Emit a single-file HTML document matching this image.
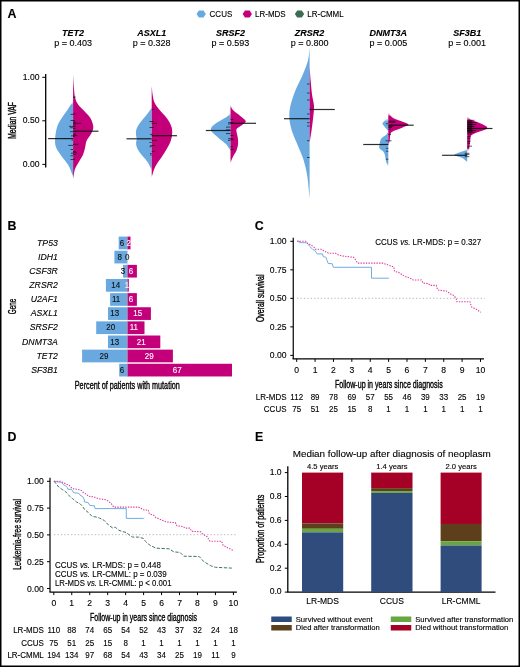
<!DOCTYPE html>
<html><head><meta charset="utf-8"><style>
html,body{margin:0;padding:0;background:#fff;}
svg{display:block;font-family:"Liberation Sans", sans-serif;will-change:transform;} text{stroke:#000;stroke-width:0.12px;}
</style></head><body>
<svg width="520" height="667" viewBox="0 0 520 667" font-family='"Liberation Sans", sans-serif' fill="#000">
<rect x="0.75" y="0.75" width="518.5" height="665.5" fill="#fff" stroke="#000" stroke-width="1.5"/>
<text x="7.5" y="17.6" font-size="12.4" font-weight="bold">A</text>
<text x="7.5" y="229.6" font-size="12.4" font-weight="bold">B</text>
<text x="254.8" y="230.0" font-size="12.4" font-weight="bold">C</text>
<text x="7.5" y="440.7" font-size="12.4" font-weight="bold">D</text>
<text x="254.9" y="440.7" font-size="12.4" font-weight="bold">E</text>
<polygon points="205.85,14.05 203.52,17.54 198.88,17.54 196.55,14.05 198.88,10.56 203.52,10.56" fill="#69A9DF"/>
<text transform="translate(209.6,17.1) scale(0.93,1)" font-size="8.6">CCUS</text>
<polygon points="251.95,14.05 249.62,17.54 244.98,17.54 242.65,14.05 244.98,10.56 249.62,10.56" fill="#C3007A"/>
<text transform="translate(255,17.1) scale(0.93,1)" font-size="8.6">LR-MDS</text>
<polygon points="304.15,14.05 301.82,17.54 297.18,17.54 294.85,14.05 297.18,10.56 301.82,10.56" fill="#3E6B55"/>
<text transform="translate(307.3,17.1) scale(0.93,1)" font-size="8.6">LR-CMML</text>
<line x1="45.7" y1="74.0" x2="45.7" y2="167.5" stroke="#000" stroke-width="1.3"/>
<line x1="42.3" y1="77.3" x2="45.7" y2="77.3" stroke="#000" stroke-width="1"/>
<text x="39.5" y="79.89999999999999" font-size="8.6" text-anchor="end">1.00</text>
<line x1="42.3" y1="120.8" x2="45.7" y2="120.8" stroke="#000" stroke-width="1"/>
<text x="39.5" y="123.39999999999999" font-size="8.6" text-anchor="end">0.50</text>
<line x1="42.3" y1="164.4" x2="45.7" y2="164.4" stroke="#000" stroke-width="1"/>
<text x="39.5" y="167.0" font-size="8.6" text-anchor="end">0.00</text>
<text transform="translate(16.2,120.5) rotate(-90)" font-size="10" text-anchor="middle" textLength="36.7" lengthAdjust="spacingAndGlyphs" style="stroke-width:0.35px">Median VAF</text>
<text x="73.1" y="36" font-size="9" font-weight="bold" font-style="italic" text-anchor="middle">TET2</text>
<text x="73.1" y="46" font-size="9" text-anchor="middle">p = 0.403</text>
<defs><linearGradient id="gTET2L" x1="0" y1="101" x2="0" y2="177.8" gradientUnits="userSpaceOnUse"><stop offset="0" stop-color="#69A9DF" stop-opacity="0"/><stop offset="0.052" stop-color="#69A9DF" stop-opacity="1"/><stop offset="0.948" stop-color="#69A9DF" stop-opacity="1"/><stop offset="1" stop-color="#69A9DF" stop-opacity="0"/></linearGradient></defs>
<path d="M73.10,101.00 L73.10,101.00 C72.18,102.45 69.52,106.82 67.60,109.70 C65.68,112.58 63.35,115.43 61.60,118.30 C59.85,121.17 58.18,123.45 57.10,126.90 C56.02,130.35 55.27,135.55 55.10,139.00 C54.93,142.45 55.02,144.73 56.10,147.60 C57.18,150.47 59.60,153.33 61.60,156.20 C63.60,159.07 66.38,161.93 68.10,164.80 C69.82,167.67 71.07,171.23 71.90,173.40 C72.73,175.57 72.90,177.07 73.10,177.80 L73.10,177.80 Z" fill="url(#gTET2L)"/>
<defs><linearGradient id="gTET2R" x1="0" y1="73.4" x2="0" y2="180.3" gradientUnits="userSpaceOnUse"><stop offset="0" stop-color="#C3007A" stop-opacity="0"/><stop offset="0.037" stop-color="#C3007A" stop-opacity="1"/><stop offset="0.963" stop-color="#C3007A" stop-opacity="1"/><stop offset="1" stop-color="#C3007A" stop-opacity="0"/></linearGradient></defs>
<path d="M73.10,73.40 L73.10,73.40 C73.23,75.70 73.57,83.17 73.90,87.20 C74.23,91.23 74.40,94.72 75.10,97.60 C75.80,100.48 76.50,102.20 78.10,104.50 C79.70,106.80 82.63,109.10 84.70,111.40 C86.77,113.70 89.07,115.72 90.50,118.30 C91.93,120.88 93.20,124.32 93.30,126.90 C93.40,129.48 92.22,131.50 91.10,133.80 C89.98,136.10 87.60,138.40 86.60,140.70 C85.60,143.00 85.68,145.30 85.10,147.60 C84.52,149.90 84.10,152.20 83.10,154.50 C82.10,156.80 80.40,159.10 79.10,161.40 C77.80,163.70 76.17,166.20 75.30,168.30 C74.43,170.40 74.27,172.00 73.90,174.00 C73.53,176.00 73.23,179.25 73.10,180.30 L73.10,180.30 Z" fill="url(#gTET2R)"/>
<line x1="73" y1="97.1" x2="75.7" y2="97.1" stroke="#000" stroke-opacity="0.7" stroke-width="0.9"/>
<line x1="73" y1="113.9" x2="75.5" y2="113.9" stroke="#000" stroke-opacity="0.7" stroke-width="0.9"/>
<line x1="73" y1="120.7" x2="75" y2="120.7" stroke="#000" stroke-opacity="0.7" stroke-width="0.9"/>
<line x1="73" y1="122.1" x2="76" y2="122.1" stroke="#000" stroke-opacity="0.7" stroke-width="0.9"/>
<line x1="73" y1="123.3" x2="81" y2="123.3" stroke="#000" stroke-opacity="0.7" stroke-width="0.9"/>
<line x1="73" y1="124.9" x2="75.5" y2="124.9" stroke="#000" stroke-opacity="0.7" stroke-width="0.9"/>
<line x1="73" y1="126.5" x2="75.5" y2="126.5" stroke="#000" stroke-opacity="0.7" stroke-width="0.9"/>
<line x1="73" y1="128.4" x2="75.5" y2="128.4" stroke="#000" stroke-opacity="0.7" stroke-width="0.9"/>
<line x1="73" y1="134" x2="76" y2="134" stroke="#000" stroke-opacity="0.7" stroke-width="0.9"/>
<line x1="73" y1="135.4" x2="77" y2="135.4" stroke="#000" stroke-opacity="0.7" stroke-width="0.9"/>
<line x1="73" y1="136.4" x2="75" y2="136.4" stroke="#000" stroke-opacity="0.7" stroke-width="0.9"/>
<line x1="73" y1="144.3" x2="78.4" y2="144.3" stroke="#000" stroke-opacity="0.7" stroke-width="0.9"/>
<line x1="73" y1="151.6" x2="76" y2="151.6" stroke="#000" stroke-opacity="0.7" stroke-width="0.9"/>
<line x1="73" y1="152.7" x2="77" y2="152.7" stroke="#000" stroke-opacity="0.7" stroke-width="0.9"/>
<line x1="73" y1="154.3" x2="76" y2="154.3" stroke="#000" stroke-opacity="0.7" stroke-width="0.9"/>
<line x1="73" y1="159.2" x2="75" y2="159.2" stroke="#000" stroke-opacity="0.7" stroke-width="0.9"/>
<line x1="70.5" y1="114.4" x2="73" y2="114.4" stroke="#000" stroke-opacity="0.7" stroke-width="0.9"/>
<line x1="70.5" y1="120.5" x2="73" y2="120.5" stroke="#000" stroke-opacity="0.7" stroke-width="0.9"/>
<line x1="68.9" y1="126.3" x2="73" y2="126.3" stroke="#000" stroke-opacity="0.7" stroke-width="0.9"/>
<line x1="70" y1="127.7" x2="73" y2="127.7" stroke="#000" stroke-opacity="0.7" stroke-width="0.9"/>
<line x1="70" y1="131.7" x2="73" y2="131.7" stroke="#000" stroke-opacity="0.7" stroke-width="0.9"/>
<line x1="71" y1="135.9" x2="73" y2="135.9" stroke="#000" stroke-opacity="0.7" stroke-width="0.9"/>
<line x1="71.5" y1="140.1" x2="73" y2="140.1" stroke="#000" stroke-opacity="0.7" stroke-width="0.9"/>
<line x1="68.2" y1="145.4" x2="73" y2="145.4" stroke="#000" stroke-opacity="0.7" stroke-width="0.9"/>
<line x1="70.5" y1="149.5" x2="73" y2="149.5" stroke="#000" stroke-opacity="0.7" stroke-width="0.9"/>
<line x1="71" y1="153.2" x2="73" y2="153.2" stroke="#000" stroke-opacity="0.7" stroke-width="0.9"/>
<line x1="70.5" y1="155.8" x2="73" y2="155.8" stroke="#000" stroke-opacity="0.7" stroke-width="0.9"/>
<line x1="70.5" y1="159.5" x2="73" y2="159.5" stroke="#000" stroke-opacity="0.7" stroke-width="0.9"/>
<line x1="48.1" y1="138.6" x2="73.1" y2="138.6" stroke="#000" stroke-opacity="0.82" stroke-width="1.2"/>
<line x1="73.1" y1="131.2" x2="98.4" y2="131.2" stroke="#000" stroke-opacity="0.82" stroke-width="1.2"/>
<text x="151.7" y="36" font-size="9" font-weight="bold" font-style="italic" text-anchor="middle">ASXL1</text>
<text x="151.7" y="46" font-size="9" text-anchor="middle">p = 0.328</text>
<defs><linearGradient id="gASXL1L" x1="0" y1="106.5" x2="0" y2="171" gradientUnits="userSpaceOnUse"><stop offset="0" stop-color="#69A9DF" stop-opacity="0"/><stop offset="0.062" stop-color="#69A9DF" stop-opacity="1"/><stop offset="0.938" stop-color="#69A9DF" stop-opacity="1"/><stop offset="1" stop-color="#69A9DF" stop-opacity="0"/></linearGradient></defs>
<path d="M151.70,106.50 L151.70,106.50 C151.53,106.92 151.20,108.08 150.70,109.00 C150.20,109.92 149.53,110.83 148.70,112.00 C147.87,113.17 146.78,114.67 145.70,116.00 C144.62,117.33 143.28,118.67 142.20,120.00 C141.12,121.33 140.08,122.67 139.20,124.00 C138.32,125.33 137.45,126.67 136.90,128.00 C136.35,129.33 136.02,130.67 135.90,132.00 C135.78,133.33 136.07,134.83 136.20,136.00 C136.33,137.17 136.72,137.83 136.70,139.00 C136.68,140.17 136.10,141.67 136.10,143.00 C136.10,144.33 136.27,145.67 136.70,147.00 C137.13,148.33 137.87,149.67 138.70,151.00 C139.53,152.33 140.62,153.67 141.70,155.00 C142.78,156.33 144.12,157.67 145.20,159.00 C146.28,160.33 147.37,161.67 148.20,163.00 C149.03,164.33 149.62,165.67 150.20,167.00 C150.78,168.33 151.45,170.33 151.70,171.00 L151.70,171.00 Z" fill="url(#gASXL1L)"/>
<defs><linearGradient id="gASXL1R" x1="0" y1="85" x2="0" y2="178" gradientUnits="userSpaceOnUse"><stop offset="0" stop-color="#C3007A" stop-opacity="0"/><stop offset="0.043" stop-color="#C3007A" stop-opacity="1"/><stop offset="0.957" stop-color="#C3007A" stop-opacity="1"/><stop offset="1" stop-color="#C3007A" stop-opacity="0"/></linearGradient></defs>
<path d="M151.70,85.00 L151.70,85.00 C151.87,86.67 152.20,92.00 152.70,95.00 C153.20,98.00 153.53,100.50 154.70,103.00 C155.87,105.50 157.70,107.50 159.70,110.00 C161.70,112.50 164.78,115.33 166.70,118.00 C168.62,120.67 170.28,123.50 171.20,126.00 C172.12,128.50 172.28,130.50 172.20,133.00 C172.12,135.50 171.62,138.33 170.70,141.00 C169.78,143.67 168.20,146.33 166.70,149.00 C165.20,151.67 163.45,154.33 161.70,157.00 C159.95,159.67 157.62,162.50 156.20,165.00 C154.78,167.50 153.95,169.83 153.20,172.00 C152.45,174.17 151.95,177.00 151.70,178.00 L151.70,178.00 Z" fill="url(#gASXL1R)"/>
<line x1="151.7" y1="109.4" x2="154.3" y2="109.4" stroke="#000" stroke-opacity="0.7" stroke-width="0.9"/>
<line x1="149.4" y1="121.5" x2="154" y2="121.5" stroke="#000" stroke-opacity="0.7" stroke-width="0.9"/>
<line x1="151.7" y1="123.3" x2="157" y2="123.3" stroke="#000" stroke-opacity="0.7" stroke-width="0.9"/>
<line x1="149.5" y1="127.5" x2="154" y2="127.5" stroke="#000" stroke-opacity="0.7" stroke-width="0.9"/>
<line x1="150" y1="134.4" x2="152.5" y2="134.4" stroke="#000" stroke-opacity="0.7" stroke-width="0.9"/>
<line x1="151.7" y1="140.4" x2="157" y2="140.4" stroke="#000" stroke-opacity="0.7" stroke-width="0.9"/>
<line x1="149.5" y1="142.5" x2="151.7" y2="142.5" stroke="#000" stroke-opacity="0.7" stroke-width="0.9"/>
<line x1="150" y1="145.6" x2="155" y2="145.6" stroke="#000" stroke-opacity="0.7" stroke-width="0.9"/>
<line x1="149.5" y1="146.7" x2="151.7" y2="146.7" stroke="#000" stroke-opacity="0.7" stroke-width="0.9"/>
<line x1="151.7" y1="151.4" x2="155" y2="151.4" stroke="#000" stroke-opacity="0.7" stroke-width="0.9"/>
<line x1="150" y1="153.5" x2="151.7" y2="153.5" stroke="#000" stroke-opacity="0.7" stroke-width="0.9"/>
<line x1="150" y1="155" x2="151.7" y2="155" stroke="#000" stroke-opacity="0.7" stroke-width="0.9"/>
<line x1="126.5" y1="138.8" x2="151.7" y2="138.8" stroke="#000" stroke-opacity="0.82" stroke-width="1.2"/>
<line x1="151.7" y1="135.7" x2="177" y2="135.7" stroke="#000" stroke-opacity="0.82" stroke-width="1.2"/>
<text x="230.5" y="36" font-size="9" font-weight="bold" font-style="italic" text-anchor="middle">SRSF2</text>
<text x="230.5" y="46" font-size="9" text-anchor="middle">p = 0.593</text>
<defs><linearGradient id="gSRSF2L" x1="0" y1="112.6" x2="0" y2="151.5" gradientUnits="userSpaceOnUse"><stop offset="0" stop-color="#69A9DF" stop-opacity="0"/><stop offset="0.103" stop-color="#69A9DF" stop-opacity="1"/><stop offset="0.897" stop-color="#69A9DF" stop-opacity="1"/><stop offset="1" stop-color="#69A9DF" stop-opacity="0"/></linearGradient></defs>
<path d="M230.50,112.60 L230.50,112.60 C229.92,113.30 228.80,115.40 227.00,116.80 C225.20,118.20 221.97,119.60 219.70,121.00 C217.43,122.40 214.88,123.80 213.40,125.20 C211.92,126.60 210.78,128.00 210.80,129.40 C210.82,130.80 212.02,132.02 213.50,133.60 C214.98,135.18 217.62,137.15 219.70,138.90 C221.78,140.65 224.37,142.35 226.00,144.10 C227.63,145.85 228.75,148.17 229.50,149.40 C230.25,150.63 230.33,151.15 230.50,151.50 L230.50,151.50 Z" fill="url(#gSRSF2L)"/>
<defs><linearGradient id="gSRSF2R" x1="0" y1="104.2" x2="0" y2="164" gradientUnits="userSpaceOnUse"><stop offset="0" stop-color="#C3007A" stop-opacity="0"/><stop offset="0.067" stop-color="#C3007A" stop-opacity="1"/><stop offset="0.933" stop-color="#C3007A" stop-opacity="1"/><stop offset="1" stop-color="#C3007A" stop-opacity="0"/></linearGradient></defs>
<path d="M230.50,104.20 L230.50,104.20 C230.83,105.08 231.33,107.92 232.50,109.50 C233.67,111.08 235.78,112.30 237.50,113.70 C239.22,115.10 241.42,116.60 242.80,117.90 C244.18,119.20 245.97,120.28 245.80,121.50 C245.63,122.72 243.27,124.05 241.80,125.20 C240.33,126.35 237.88,127.35 237.00,128.40 C236.12,129.45 236.37,129.93 236.50,131.50 C236.63,133.07 237.53,135.70 237.80,137.80 C238.07,139.90 238.32,142.00 238.10,144.10 C237.88,146.20 237.27,148.47 236.50,150.40 C235.73,152.33 234.33,154.12 233.50,155.70 C232.67,157.28 232.00,158.52 231.50,159.90 C231.00,161.28 230.67,163.32 230.50,164.00 L230.50,164.00 Z" fill="url(#gSRSF2R)"/>
<line x1="230.5" y1="119.4" x2="233.4" y2="119.4" stroke="#000" stroke-opacity="0.7" stroke-width="0.9"/>
<line x1="228.1" y1="122.6" x2="233" y2="122.6" stroke="#000" stroke-opacity="0.7" stroke-width="0.9"/>
<line x1="228" y1="124" x2="230.5" y2="124" stroke="#000" stroke-opacity="0.7" stroke-width="0.9"/>
<line x1="226" y1="127.1" x2="230.5" y2="127.1" stroke="#000" stroke-opacity="0.7" stroke-width="0.9"/>
<line x1="226" y1="129.9" x2="230.5" y2="129.9" stroke="#000" stroke-opacity="0.7" stroke-width="0.9"/>
<line x1="226" y1="133.6" x2="230.5" y2="133.6" stroke="#000" stroke-opacity="0.7" stroke-width="0.9"/>
<line x1="230.5" y1="135.5" x2="233.5" y2="135.5" stroke="#000" stroke-opacity="0.7" stroke-width="0.9"/>
<line x1="228" y1="138.7" x2="233" y2="138.7" stroke="#000" stroke-opacity="0.7" stroke-width="0.9"/>
<line x1="230.5" y1="139.7" x2="234" y2="139.7" stroke="#000" stroke-opacity="0.7" stroke-width="0.9"/>
<line x1="228" y1="140.4" x2="230.5" y2="140.4" stroke="#000" stroke-opacity="0.7" stroke-width="0.9"/>
<line x1="230.5" y1="146.7" x2="233" y2="146.7" stroke="#000" stroke-opacity="0.7" stroke-width="0.9"/>
<line x1="230.5" y1="149.4" x2="234" y2="149.4" stroke="#000" stroke-opacity="0.7" stroke-width="0.9"/>
<line x1="205.8" y1="130.5" x2="230.5" y2="130.5" stroke="#000" stroke-opacity="0.82" stroke-width="1.2"/>
<line x1="230.5" y1="123.3" x2="256" y2="123.3" stroke="#000" stroke-opacity="0.82" stroke-width="1.2"/>
<text x="309.6" y="36" font-size="9" font-weight="bold" font-style="italic" text-anchor="middle">ZRSR2</text>
<text x="309.6" y="46" font-size="9" text-anchor="middle">p = 0.800</text>
<defs><linearGradient id="gZRSR2L" x1="0" y1="47" x2="0" y2="199.5" gradientUnits="userSpaceOnUse"><stop offset="0" stop-color="#69A9DF" stop-opacity="0"/><stop offset="0.026" stop-color="#69A9DF" stop-opacity="1"/><stop offset="0.974" stop-color="#69A9DF" stop-opacity="1"/><stop offset="1" stop-color="#69A9DF" stop-opacity="0"/></linearGradient></defs>
<path d="M309.60,47.00 L309.60,47.00 C309.35,49.17 309.27,55.33 308.10,60.00 C306.93,64.67 304.68,70.00 302.60,75.00 C300.52,80.00 297.60,85.00 295.60,90.00 C293.60,95.00 291.65,100.50 290.60,105.00 C289.55,109.50 289.13,112.83 289.30,117.00 C289.47,121.17 290.22,125.33 291.60,130.00 C292.98,134.67 295.60,140.00 297.60,145.00 C299.60,150.00 302.02,155.00 303.60,160.00 C305.18,165.00 306.23,170.00 307.10,175.00 C307.97,180.00 308.38,185.92 308.80,190.00 C309.22,194.08 309.47,197.92 309.60,199.50 L309.60,199.50 Z" fill="url(#gZRSR2L)"/>
<defs><linearGradient id="gZRSR2R" x1="0" y1="66" x2="0" y2="143" gradientUnits="userSpaceOnUse"><stop offset="0" stop-color="#C3007A" stop-opacity="0"/><stop offset="0.052" stop-color="#C3007A" stop-opacity="1"/><stop offset="0.948" stop-color="#C3007A" stop-opacity="1"/><stop offset="1" stop-color="#C3007A" stop-opacity="0"/></linearGradient></defs>
<path d="M309.60,66.00 L309.60,66.00 C309.77,68.33 310.18,75.17 310.60,80.00 C311.02,84.83 311.53,90.67 312.10,95.00 C312.67,99.33 313.83,102.17 314.00,106.00 C314.17,109.83 313.50,114.00 313.10,118.00 C312.70,122.00 312.18,125.83 311.60,130.00 C311.02,134.17 309.93,140.83 309.60,143.00 L309.60,143.00 Z" fill="url(#gZRSR2R)"/>
<line x1="307" y1="84" x2="309.6" y2="84" stroke="#000" stroke-opacity="0.7" stroke-width="0.9"/>
<line x1="307" y1="93" x2="309.6" y2="93" stroke="#000" stroke-opacity="0.7" stroke-width="0.9"/>
<line x1="307" y1="100" x2="309.6" y2="100" stroke="#000" stroke-opacity="0.7" stroke-width="0.9"/>
<line x1="307" y1="114" x2="309.6" y2="114" stroke="#000" stroke-opacity="0.7" stroke-width="0.9"/>
<line x1="307" y1="122.7" x2="309.6" y2="122.7" stroke="#000" stroke-opacity="0.7" stroke-width="0.9"/>
<line x1="307" y1="126" x2="309.6" y2="126" stroke="#000" stroke-opacity="0.7" stroke-width="0.9"/>
<line x1="307" y1="140.7" x2="309.6" y2="140.7" stroke="#000" stroke-opacity="0.7" stroke-width="0.9"/>
<line x1="307" y1="157.5" x2="309.6" y2="157.5" stroke="#000" stroke-opacity="0.7" stroke-width="0.9"/>
<line x1="284" y1="118.7" x2="309.6" y2="118.7" stroke="#000" stroke-opacity="0.82" stroke-width="1.2"/>
<line x1="309.6" y1="109.5" x2="334.8" y2="109.5" stroke="#000" stroke-opacity="0.82" stroke-width="1.2"/>
<text x="388.3" y="36" font-size="9" font-weight="bold" font-style="italic" text-anchor="middle">DNMT3A</text>
<text x="388.3" y="46" font-size="9" text-anchor="middle">p = 0.005</text>
<defs><linearGradient id="gDNMT3AL" x1="0" y1="117.7" x2="0" y2="166.7" gradientUnits="userSpaceOnUse"><stop offset="0" stop-color="#69A9DF" stop-opacity="0"/><stop offset="0.082" stop-color="#69A9DF" stop-opacity="1"/><stop offset="0.918" stop-color="#69A9DF" stop-opacity="1"/><stop offset="1" stop-color="#69A9DF" stop-opacity="0"/></linearGradient></defs>
<path d="M388.30,117.70 L388.30,117.70 C387.62,118.28 385.17,120.18 384.20,121.20 C383.23,122.22 382.40,122.85 382.50,123.80 C382.60,124.75 384.00,125.90 384.80,126.90 C385.60,127.90 386.77,128.93 387.30,129.80 C387.83,130.67 388.22,131.23 388.00,132.10 C387.78,132.97 387.12,133.93 386.00,135.00 C384.88,136.07 382.37,136.97 381.30,138.50 C380.23,140.03 379.92,142.57 379.60,144.20 C379.28,145.83 378.83,147.13 379.40,148.30 C379.97,149.47 382.10,150.15 383.00,151.20 C383.90,152.25 384.37,153.27 384.80,154.60 C385.23,155.93 385.27,157.67 385.60,159.20 C385.93,160.73 386.35,162.55 386.80,163.80 C387.25,165.05 388.05,166.22 388.30,166.70 L388.30,166.70 Z" fill="url(#gDNMT3AL)"/>
<defs><linearGradient id="gDNMT3AR" x1="0" y1="112.5" x2="0" y2="146.5" gradientUnits="userSpaceOnUse"><stop offset="0" stop-color="#C3007A" stop-opacity="0"/><stop offset="0.118" stop-color="#C3007A" stop-opacity="1"/><stop offset="0.882" stop-color="#C3007A" stop-opacity="1"/><stop offset="1" stop-color="#C3007A" stop-opacity="0"/></linearGradient></defs>
<path d="M388.30,112.50 L388.30,112.50 C388.63,112.98 389.25,114.35 390.30,115.40 C391.35,116.45 392.53,117.75 394.60,118.80 C396.67,119.85 400.38,120.73 402.70,121.70 C405.02,122.67 408.50,123.63 408.50,124.60 C408.50,125.57 404.63,126.63 402.70,127.50 C400.77,128.37 398.73,129.03 396.90,129.80 C395.07,130.57 392.80,131.23 391.70,132.10 C390.60,132.97 390.62,133.75 390.30,135.00 C389.98,136.25 390.05,138.07 389.80,139.60 C389.55,141.13 389.05,143.05 388.80,144.20 C388.55,145.35 388.38,146.12 388.30,146.50 L388.30,146.50 Z" fill="url(#gDNMT3AR)"/>
<line x1="388.3" y1="121.2" x2="395.8" y2="121.2" stroke="#000" stroke-opacity="0.7" stroke-width="0.9"/>
<line x1="388.3" y1="122.3" x2="395" y2="122.3" stroke="#000" stroke-opacity="0.7" stroke-width="0.9"/>
<line x1="386" y1="123.7" x2="388.3" y2="123.7" stroke="#000" stroke-opacity="0.7" stroke-width="0.9"/>
<line x1="388.3" y1="126.3" x2="393.5" y2="126.3" stroke="#000" stroke-opacity="0.7" stroke-width="0.9"/>
<line x1="388.3" y1="127.5" x2="392" y2="127.5" stroke="#000" stroke-opacity="0.7" stroke-width="0.9"/>
<line x1="388.3" y1="129.2" x2="391" y2="129.2" stroke="#000" stroke-opacity="0.7" stroke-width="0.9"/>
<line x1="388.3" y1="134.4" x2="391" y2="134.4" stroke="#000" stroke-opacity="0.7" stroke-width="0.9"/>
<line x1="385.5" y1="140.8" x2="391.5" y2="140.8" stroke="#000" stroke-opacity="0.7" stroke-width="0.9"/>
<line x1="386" y1="148.3" x2="388.3" y2="148.3" stroke="#000" stroke-opacity="0.7" stroke-width="0.9"/>
<line x1="386" y1="151.2" x2="388.3" y2="151.2" stroke="#000" stroke-opacity="0.7" stroke-width="0.9"/>
<line x1="386" y1="159.2" x2="388.3" y2="159.2" stroke="#000" stroke-opacity="0.7" stroke-width="0.9"/>
<line x1="363.2" y1="144.5" x2="388.3" y2="144.5" stroke="#000" stroke-opacity="0.82" stroke-width="1.2"/>
<line x1="388.3" y1="125.2" x2="413.7" y2="125.2" stroke="#000" stroke-opacity="0.82" stroke-width="1.2"/>
<text x="467.2" y="36" font-size="9" font-weight="bold" font-style="italic" text-anchor="middle">SF3B1</text>
<text x="467.2" y="46" font-size="9" text-anchor="middle">p = 0.001</text>
<defs><linearGradient id="gSF3B1L" x1="0" y1="148.5" x2="0" y2="163" gradientUnits="userSpaceOnUse"><stop offset="0" stop-color="#69A9DF" stop-opacity="0"/><stop offset="0.200" stop-color="#69A9DF" stop-opacity="1"/><stop offset="0.800" stop-color="#69A9DF" stop-opacity="1"/><stop offset="1" stop-color="#69A9DF" stop-opacity="0"/></linearGradient></defs>
<path d="M467.20,148.50 L467.20,148.50 C466.90,148.78 466.23,149.68 465.40,150.20 C464.57,150.72 463.48,151.13 462.20,151.60 C460.92,152.07 459.00,152.50 457.70,153.00 C456.40,153.50 454.82,154.13 454.40,154.60 C453.98,155.07 454.32,155.40 455.20,155.80 C456.08,156.20 458.37,156.55 459.70,157.00 C461.03,157.45 462.25,157.92 463.20,158.50 C464.15,159.08 464.73,159.75 465.40,160.50 C466.07,161.25 466.90,162.58 467.20,163.00 L467.20,163.00 Z" fill="url(#gSF3B1L)"/>
<defs><linearGradient id="gSF3B1R" x1="0" y1="116.5" x2="0" y2="151.5" gradientUnits="userSpaceOnUse"><stop offset="0" stop-color="#C3007A" stop-opacity="0"/><stop offset="0.114" stop-color="#C3007A" stop-opacity="1"/><stop offset="0.886" stop-color="#C3007A" stop-opacity="1"/><stop offset="1" stop-color="#C3007A" stop-opacity="0"/></linearGradient></defs>
<path d="M467.20,116.50 L467.20,116.50 C467.45,116.67 468.03,116.95 468.70,117.50 C469.37,118.05 469.48,118.92 471.20,119.80 C472.92,120.68 476.67,121.80 479.00,122.80 C481.33,123.80 483.83,124.95 485.20,125.80 C486.57,126.65 487.28,127.23 487.20,127.90 C487.12,128.57 486.07,129.15 484.70,129.80 C483.33,130.45 480.95,131.07 479.00,131.80 C477.05,132.53 474.35,133.50 473.00,134.20 C471.65,134.90 471.33,135.20 470.90,136.00 C470.47,136.80 470.60,137.50 470.40,139.00 C470.20,140.50 470.03,143.10 469.70,145.00 C469.37,146.90 468.82,149.32 468.40,150.40 C467.98,151.48 467.40,151.32 467.20,151.50 L467.20,151.50 Z" fill="url(#gSF3B1R)"/>
<rect x="467.2" y="121" width="5.2" height="11.4" fill="#000" fill-opacity="0.62"/>
<line x1="467.2" y1="120.3" x2="474.5" y2="120.3" stroke="#000" stroke-opacity="0.7" stroke-width="0.9"/>
<line x1="467.2" y1="122.5" x2="477" y2="122.5" stroke="#000" stroke-opacity="0.7" stroke-width="0.9"/>
<line x1="467.2" y1="124.5" x2="476" y2="124.5" stroke="#000" stroke-opacity="0.7" stroke-width="0.9"/>
<line x1="467.2" y1="126.5" x2="474.8" y2="126.5" stroke="#000" stroke-opacity="0.7" stroke-width="0.9"/>
<line x1="467.2" y1="130.5" x2="476" y2="130.5" stroke="#000" stroke-opacity="0.7" stroke-width="0.9"/>
<line x1="467.2" y1="132.3" x2="474.5" y2="132.3" stroke="#000" stroke-opacity="0.7" stroke-width="0.9"/>
<line x1="467.2" y1="134" x2="471.5" y2="134" stroke="#000" stroke-opacity="0.7" stroke-width="0.9"/>
<line x1="467.2" y1="136.6" x2="470.5" y2="136.6" stroke="#000" stroke-opacity="0.7" stroke-width="0.9"/>
<line x1="467.2" y1="138.4" x2="470" y2="138.4" stroke="#000" stroke-opacity="0.7" stroke-width="0.9"/>
<line x1="467.2" y1="141.4" x2="470.5" y2="141.4" stroke="#000" stroke-opacity="0.7" stroke-width="0.9"/>
<line x1="467.2" y1="143.2" x2="470" y2="143.2" stroke="#000" stroke-opacity="0.7" stroke-width="0.9"/>
<line x1="467.2" y1="146.2" x2="472" y2="146.2" stroke="#000" stroke-opacity="0.7" stroke-width="0.9"/>
<line x1="467.2" y1="148" x2="469.5" y2="148" stroke="#000" stroke-opacity="0.7" stroke-width="0.9"/>
<line x1="464.8" y1="153.3" x2="469.4" y2="153.3" stroke="#000" stroke-opacity="0.7" stroke-width="0.9"/>
<line x1="464.8" y1="154.4" x2="469.4" y2="154.4" stroke="#000" stroke-opacity="0.7" stroke-width="0.9"/>
<line x1="464.8" y1="156.7" x2="469.4" y2="156.7" stroke="#000" stroke-opacity="0.7" stroke-width="0.9"/>
<line x1="442.1" y1="155.3" x2="467.2" y2="155.3" stroke="#000" stroke-opacity="0.82" stroke-width="1.2"/>
<line x1="467.2" y1="128.5" x2="492.5" y2="128.5" stroke="#000" stroke-opacity="0.82" stroke-width="1.2"/>
<text x="57.8" y="245.60" font-size="8.7" font-style="italic" text-anchor="end">TP53</text>
<rect x="118.70" y="236.60" width="8.60" height="12.7" fill="#69A9DF"/>
<rect x="127.30" y="236.60" width="3.20" height="12.7" fill="#C3007A"/>
<text transform="translate(121.90,245.60) scale(0.93,1)" font-size="8.6" text-anchor="middle" fill="#111">6</text>
<text transform="translate(128.80,245.60) scale(0.93,1)" font-size="8.6" text-anchor="middle" fill="#fff" style="stroke:#fff">2</text>
<text x="57.8" y="259.73" font-size="8.7" font-style="italic" text-anchor="end">IDH1</text>
<rect x="114.40" y="250.73" width="12.90" height="12.7" fill="#69A9DF"/>
<text transform="translate(119.70,259.73) scale(0.93,1)" font-size="8.6" text-anchor="middle" fill="#111">8</text>
<text transform="translate(127.30,259.73) scale(0.93,1)" font-size="8.6" text-anchor="middle" fill="#111" style="stroke:#111">0</text>
<text x="57.8" y="273.86" font-size="8.7" font-style="italic" text-anchor="end">CSF3R</text>
<rect x="123.00" y="264.86" width="4.30" height="12.7" fill="#69A9DF"/>
<rect x="127.30" y="264.86" width="9.60" height="12.7" fill="#C3007A"/>
<text transform="translate(123.00,273.86) scale(0.93,1)" font-size="8.6" text-anchor="middle" fill="#111">3</text>
<text transform="translate(130.90,273.86) scale(0.93,1)" font-size="8.6" text-anchor="middle" fill="#fff" style="stroke:#fff">6</text>
<text x="57.8" y="287.99" font-size="8.7" font-style="italic" text-anchor="end">ZRSR2</text>
<rect x="105.90" y="278.99" width="21.40" height="12.7" fill="#69A9DF"/>
<rect x="127.30" y="278.99" width="1.50" height="12.7" fill="#C3007A"/>
<text transform="translate(115.80,287.99) scale(0.93,1)" font-size="8.6" text-anchor="middle" fill="#111">14</text>
<text transform="translate(126.90,287.99) scale(0.93,1)" font-size="8.6" text-anchor="middle" fill="#fff" style="stroke:#fff">1</text>
<text x="57.8" y="302.12" font-size="8.7" font-style="italic" text-anchor="end">U2AF1</text>
<rect x="110.10" y="293.12" width="17.20" height="12.7" fill="#69A9DF"/>
<rect x="127.30" y="293.12" width="9.60" height="12.7" fill="#C3007A"/>
<text transform="translate(116.10,302.12) scale(0.93,1)" font-size="8.6" text-anchor="middle" fill="#111">11</text>
<text transform="translate(131.10,302.12) scale(0.93,1)" font-size="8.6" text-anchor="middle" fill="#fff" style="stroke:#fff">6</text>
<text x="57.8" y="316.25" font-size="8.7" font-style="italic" text-anchor="end">ASXL1</text>
<rect x="108.00" y="307.25" width="19.30" height="12.7" fill="#69A9DF"/>
<rect x="127.30" y="307.25" width="23.60" height="12.7" fill="#C3007A"/>
<text transform="translate(114.70,316.25) scale(0.93,1)" font-size="8.6" text-anchor="middle" fill="#111">13</text>
<text transform="translate(137.80,316.25) scale(0.93,1)" font-size="8.6" text-anchor="middle" fill="#fff" style="stroke:#fff">15</text>
<text x="57.8" y="330.38" font-size="8.7" font-style="italic" text-anchor="end">SRSF2</text>
<rect x="96.20" y="321.38" width="31.10" height="12.7" fill="#69A9DF"/>
<rect x="127.30" y="321.38" width="17.20" height="12.7" fill="#C3007A"/>
<text transform="translate(110.80,330.38) scale(0.93,1)" font-size="8.6" text-anchor="middle" fill="#111">20</text>
<text transform="translate(133.80,330.38) scale(0.93,1)" font-size="8.6" text-anchor="middle" fill="#fff" style="stroke:#fff">11</text>
<text x="57.8" y="344.51" font-size="8.7" font-style="italic" text-anchor="end">DNMT3A</text>
<rect x="108.00" y="335.51" width="19.30" height="12.7" fill="#69A9DF"/>
<rect x="127.30" y="335.51" width="33.00" height="12.7" fill="#C3007A"/>
<text transform="translate(114.70,344.51) scale(0.93,1)" font-size="8.6" text-anchor="middle" fill="#111">13</text>
<text transform="translate(141.20,344.51) scale(0.93,1)" font-size="8.6" text-anchor="middle" fill="#fff" style="stroke:#fff">21</text>
<text x="57.8" y="358.64" font-size="8.7" font-style="italic" text-anchor="end">TET2</text>
<rect x="82.10" y="349.64" width="45.20" height="12.7" fill="#69A9DF"/>
<rect x="127.30" y="349.64" width="45.60" height="12.7" fill="#C3007A"/>
<text transform="translate(103.90,358.64) scale(0.93,1)" font-size="8.6" text-anchor="middle" fill="#111">29</text>
<text transform="translate(149.30,358.64) scale(0.93,1)" font-size="8.6" text-anchor="middle" fill="#fff" style="stroke:#fff">29</text>
<text x="57.8" y="372.77" font-size="8.7" font-style="italic" text-anchor="end">SF3B1</text>
<rect x="119.20" y="363.77" width="8.10" height="12.7" fill="#69A9DF"/>
<rect x="127.30" y="363.77" width="104.70" height="12.7" fill="#C3007A"/>
<text transform="translate(121.90,372.77) scale(0.93,1)" font-size="8.6" text-anchor="middle" fill="#111">6</text>
<text transform="translate(177.30,372.77) scale(0.93,1)" font-size="8.6" text-anchor="middle" fill="#fff" style="stroke:#fff">67</text>
<line x1="127.3" y1="236.6" x2="127.3" y2="376.46999999999997" stroke="#bbb" stroke-width="0.4"/>
<text transform="translate(16.4,306.5) rotate(-90)" font-size="10" text-anchor="middle" textLength="15.5" lengthAdjust="spacingAndGlyphs" style="stroke-width:0.35px">Gene</text>
<text x="74.8" y="388.8" font-size="10.3" textLength="105" lengthAdjust="spacingAndGlyphs" style="stroke-width:0.35px">Percent of patients with mutation</text>
<line x1="293.25" y1="237.7" x2="293.25" y2="358.9" stroke="#000" stroke-width="1.2"/>
<line x1="290.25" y1="241.30" x2="293.25" y2="241.30" stroke="#000" stroke-width="1"/>
<text x="286.6" y="244.30" font-size="8.6" text-anchor="end">1.00</text>
<line x1="290.25" y1="269.82" x2="293.25" y2="269.82" stroke="#000" stroke-width="1"/>
<text x="286.6" y="272.82" font-size="8.6" text-anchor="end">0.75</text>
<line x1="290.25" y1="298.35" x2="293.25" y2="298.35" stroke="#000" stroke-width="1"/>
<text x="286.6" y="301.35" font-size="8.6" text-anchor="end">0.50</text>
<line x1="290.25" y1="326.88" x2="293.25" y2="326.88" stroke="#000" stroke-width="1"/>
<text x="286.6" y="329.88" font-size="8.6" text-anchor="end">0.25</text>
<line x1="290.25" y1="355.40" x2="293.25" y2="355.40" stroke="#000" stroke-width="1"/>
<text x="286.6" y="358.40" font-size="8.6" text-anchor="end">0.00</text>
<line x1="292.65" y1="358.9" x2="484.00" y2="358.9" stroke="#000" stroke-width="1.2"/>
<line x1="296.70" y1="358.9" x2="296.70" y2="361.9" stroke="#000" stroke-width="1"/>
<line x1="315.08" y1="358.9" x2="315.08" y2="361.9" stroke="#000" stroke-width="1"/>
<line x1="333.46" y1="358.9" x2="333.46" y2="361.9" stroke="#000" stroke-width="1"/>
<line x1="351.84" y1="358.9" x2="351.84" y2="361.9" stroke="#000" stroke-width="1"/>
<line x1="370.22" y1="358.9" x2="370.22" y2="361.9" stroke="#000" stroke-width="1"/>
<line x1="388.60" y1="358.9" x2="388.60" y2="361.9" stroke="#000" stroke-width="1"/>
<line x1="406.98" y1="358.9" x2="406.98" y2="361.9" stroke="#000" stroke-width="1"/>
<line x1="425.36" y1="358.9" x2="425.36" y2="361.9" stroke="#000" stroke-width="1"/>
<line x1="443.74" y1="358.9" x2="443.74" y2="361.9" stroke="#000" stroke-width="1"/>
<line x1="462.12" y1="358.9" x2="462.12" y2="361.9" stroke="#000" stroke-width="1"/>
<line x1="480.50" y1="358.9" x2="480.50" y2="361.9" stroke="#000" stroke-width="1"/>
<text transform="translate(264.2,298.3) rotate(-90)" font-size="10" text-anchor="middle" textLength="47.6" lengthAdjust="spacingAndGlyphs" style="stroke-width:0.35px">Overall survival</text>
<line x1="297" y1="298.3" x2="484.6" y2="298.3" stroke="#b4b4b4" stroke-width="0.9" stroke-dasharray="1.4,2.0"/>
<text x="296.70" y="373" font-size="8.6" text-anchor="middle">0</text>
<text x="315.08" y="373" font-size="8.6" text-anchor="middle">1</text>
<text x="333.46" y="373" font-size="8.6" text-anchor="middle">2</text>
<text x="351.84" y="373" font-size="8.6" text-anchor="middle">3</text>
<text x="370.22" y="373" font-size="8.6" text-anchor="middle">4</text>
<text x="388.60" y="373" font-size="8.6" text-anchor="middle">5</text>
<text x="406.98" y="373" font-size="8.6" text-anchor="middle">6</text>
<text x="425.36" y="373" font-size="8.6" text-anchor="middle">7</text>
<text x="443.74" y="373" font-size="8.6" text-anchor="middle">8</text>
<text x="462.12" y="373" font-size="8.6" text-anchor="middle">9</text>
<text x="480.50" y="373" font-size="8.6" text-anchor="middle">10</text>
<text x="334.9" y="387.9" font-size="10.3" textLength="107.8" lengthAdjust="spacingAndGlyphs" style="stroke-width:0.35px">Follow-up in years since diagnosis</text>
<text transform="translate(286.5,400.2) scale(0.93,1)" font-size="8.6" text-anchor="end">LR-MDS</text>
<text transform="translate(296.70,400.2) scale(0.93,1)" font-size="8.6" text-anchor="middle">112</text>
<text transform="translate(315.08,400.2) scale(0.93,1)" font-size="8.6" text-anchor="middle">89</text>
<text transform="translate(333.46,400.2) scale(0.93,1)" font-size="8.6" text-anchor="middle">78</text>
<text transform="translate(351.84,400.2) scale(0.93,1)" font-size="8.6" text-anchor="middle">69</text>
<text transform="translate(370.22,400.2) scale(0.93,1)" font-size="8.6" text-anchor="middle">57</text>
<text transform="translate(388.60,400.2) scale(0.93,1)" font-size="8.6" text-anchor="middle">55</text>
<text transform="translate(406.98,400.2) scale(0.93,1)" font-size="8.6" text-anchor="middle">46</text>
<text transform="translate(425.36,400.2) scale(0.93,1)" font-size="8.6" text-anchor="middle">39</text>
<text transform="translate(443.74,400.2) scale(0.93,1)" font-size="8.6" text-anchor="middle">33</text>
<text transform="translate(462.12,400.2) scale(0.93,1)" font-size="8.6" text-anchor="middle">25</text>
<text transform="translate(480.50,400.2) scale(0.93,1)" font-size="8.6" text-anchor="middle">19</text>
<text transform="translate(286.5,411.8) scale(0.93,1)" font-size="8.6" text-anchor="end">CCUS</text>
<text transform="translate(296.70,411.8) scale(0.93,1)" font-size="8.6" text-anchor="middle">75</text>
<text transform="translate(315.08,411.8) scale(0.93,1)" font-size="8.6" text-anchor="middle">51</text>
<text transform="translate(333.46,411.8) scale(0.93,1)" font-size="8.6" text-anchor="middle">25</text>
<text transform="translate(351.84,411.8) scale(0.93,1)" font-size="8.6" text-anchor="middle">15</text>
<text transform="translate(370.22,411.8) scale(0.93,1)" font-size="8.6" text-anchor="middle">8</text>
<text transform="translate(388.60,411.8) scale(0.93,1)" font-size="8.6" text-anchor="middle">1</text>
<text transform="translate(406.98,411.8) scale(0.93,1)" font-size="8.6" text-anchor="middle">1</text>
<text transform="translate(425.36,411.8) scale(0.93,1)" font-size="8.6" text-anchor="middle">1</text>
<text transform="translate(443.74,411.8) scale(0.93,1)" font-size="8.6" text-anchor="middle">1</text>
<text transform="translate(462.12,411.8) scale(0.93,1)" font-size="8.6" text-anchor="middle">1</text>
<text transform="translate(480.50,411.8) scale(0.93,1)" font-size="8.6" text-anchor="middle">1</text>
<text transform="translate(375.3,245) scale(0.93,1)" font-size="8.6">CCUS <tspan font-style="italic">vs.</tspan> LR-MDS: p = 0.327</text>
<path d="M297.00,241.20 L299.30,241.20 L299.30,242.70 L306.30,242.70 L306.80,243.20 L308.60,244.70 L309.70,246.40 L310.90,247.50 L312.00,248.50 L313.20,249.80 L314.90,250.40 L316.10,252.20 L317.20,253.90 L322.40,253.90 L323.20,256.50 L325.90,257.30 L327.00,260.20 L328.20,263.50 L332.20,263.70 L333.40,267.30 L371.50,267.30 L371.50,278.20 L388.90,278.20" fill="none" stroke="#69A9DF" stroke-width="0.95"/>
<path d="M297.00,241.20 L305.70,241.20 L307.40,243.20 L310.30,244.70 L313.20,246.40 L314.90,248.10 L315.50,249.30 L321.80,249.30 L323.60,250.80 L326.50,252.20 L328.80,253.30 L335.70,253.30 L337.40,254.50 L341.50,255.80 L344.60,256.20 L353.80,257.40 L357.70,263.10 L382.30,263.10 L386.20,264.30 L389.20,265.40 L393.80,266.90 L394.60,271.50 L398.50,272.30 L404.60,276.20 L410.80,278.50 L413.10,280.00 L421.50,280.00 L423.10,283.10 L428.50,283.50 L430.00,285.40 L436.20,285.40 L437.70,290.00 L446.90,291.20 L450.00,293.80 L453.80,295.40 L456.20,298.50 L456.90,301.80 L470.00,301.80 L471.50,306.90 L476.20,309.20 L480.80,312.30" fill="none" stroke="#E03C9E" stroke-width="1.1" stroke-dasharray="1.4,1.25"/>
<line x1="50.0" y1="477.8" x2="50.0" y2="592.1" stroke="#000" stroke-width="1.2"/>
<line x1="47.0" y1="481.30" x2="50.0" y2="481.30" stroke="#000" stroke-width="1"/>
<text x="43.8" y="484.30" font-size="8.6" text-anchor="end">1.00</text>
<line x1="47.0" y1="508.10" x2="50.0" y2="508.10" stroke="#000" stroke-width="1"/>
<text x="43.8" y="511.10" font-size="8.6" text-anchor="end">0.75</text>
<line x1="47.0" y1="534.90" x2="50.0" y2="534.90" stroke="#000" stroke-width="1"/>
<text x="43.8" y="537.90" font-size="8.6" text-anchor="end">0.50</text>
<line x1="47.0" y1="561.70" x2="50.0" y2="561.70" stroke="#000" stroke-width="1"/>
<text x="43.8" y="564.70" font-size="8.6" text-anchor="end">0.25</text>
<line x1="47.0" y1="588.50" x2="50.0" y2="588.50" stroke="#000" stroke-width="1"/>
<text x="43.8" y="591.50" font-size="8.6" text-anchor="end">0.00</text>
<line x1="49.4" y1="592.1" x2="236.90" y2="592.1" stroke="#000" stroke-width="1.2"/>
<line x1="53.80" y1="592.1" x2="53.80" y2="595.1" stroke="#000" stroke-width="1"/>
<line x1="71.76" y1="592.1" x2="71.76" y2="595.1" stroke="#000" stroke-width="1"/>
<line x1="89.72" y1="592.1" x2="89.72" y2="595.1" stroke="#000" stroke-width="1"/>
<line x1="107.68" y1="592.1" x2="107.68" y2="595.1" stroke="#000" stroke-width="1"/>
<line x1="125.64" y1="592.1" x2="125.64" y2="595.1" stroke="#000" stroke-width="1"/>
<line x1="143.60" y1="592.1" x2="143.60" y2="595.1" stroke="#000" stroke-width="1"/>
<line x1="161.56" y1="592.1" x2="161.56" y2="595.1" stroke="#000" stroke-width="1"/>
<line x1="179.52" y1="592.1" x2="179.52" y2="595.1" stroke="#000" stroke-width="1"/>
<line x1="197.48" y1="592.1" x2="197.48" y2="595.1" stroke="#000" stroke-width="1"/>
<line x1="215.44" y1="592.1" x2="215.44" y2="595.1" stroke="#000" stroke-width="1"/>
<line x1="233.40" y1="592.1" x2="233.40" y2="595.1" stroke="#000" stroke-width="1"/>
<text transform="translate(21.1,534.4) rotate(-90)" font-size="10" text-anchor="middle" textLength="70.8" lengthAdjust="spacingAndGlyphs" style="stroke-width:0.35px">Leukemia-free survival</text>
<line x1="54" y1="534.7" x2="237" y2="534.7" stroke="#b4b4b4" stroke-width="0.9" stroke-dasharray="1.4,2.0"/>
<text x="53.80" y="606" font-size="8.6" text-anchor="middle">0</text>
<text x="71.76" y="606" font-size="8.6" text-anchor="middle">1</text>
<text x="89.72" y="606" font-size="8.6" text-anchor="middle">2</text>
<text x="107.68" y="606" font-size="8.6" text-anchor="middle">3</text>
<text x="125.64" y="606" font-size="8.6" text-anchor="middle">4</text>
<text x="143.60" y="606" font-size="8.6" text-anchor="middle">5</text>
<text x="161.56" y="606" font-size="8.6" text-anchor="middle">6</text>
<text x="179.52" y="606" font-size="8.6" text-anchor="middle">7</text>
<text x="197.48" y="606" font-size="8.6" text-anchor="middle">8</text>
<text x="215.44" y="606" font-size="8.6" text-anchor="middle">9</text>
<text x="233.40" y="606" font-size="8.6" text-anchor="middle">10</text>
<text x="90.0" y="620.8" font-size="10.3" textLength="107" lengthAdjust="spacingAndGlyphs" style="stroke-width:0.35px">Follow-up in years since diagnosis</text>
<text transform="translate(43.8,633) scale(0.93,1)" font-size="8.6" text-anchor="end">LR-MDS</text>
<text transform="translate(53.80,633) scale(0.93,1)" font-size="8.6" text-anchor="middle">110</text>
<text transform="translate(71.76,633) scale(0.93,1)" font-size="8.6" text-anchor="middle">88</text>
<text transform="translate(89.72,633) scale(0.93,1)" font-size="8.6" text-anchor="middle">74</text>
<text transform="translate(107.68,633) scale(0.93,1)" font-size="8.6" text-anchor="middle">65</text>
<text transform="translate(125.64,633) scale(0.93,1)" font-size="8.6" text-anchor="middle">54</text>
<text transform="translate(143.60,633) scale(0.93,1)" font-size="8.6" text-anchor="middle">52</text>
<text transform="translate(161.56,633) scale(0.93,1)" font-size="8.6" text-anchor="middle">43</text>
<text transform="translate(179.52,633) scale(0.93,1)" font-size="8.6" text-anchor="middle">37</text>
<text transform="translate(197.48,633) scale(0.93,1)" font-size="8.6" text-anchor="middle">32</text>
<text transform="translate(215.44,633) scale(0.93,1)" font-size="8.6" text-anchor="middle">24</text>
<text transform="translate(233.40,633) scale(0.93,1)" font-size="8.6" text-anchor="middle">18</text>
<text transform="translate(43.8,645.5) scale(0.93,1)" font-size="8.6" text-anchor="end">CCUS</text>
<text transform="translate(53.80,645.5) scale(0.93,1)" font-size="8.6" text-anchor="middle">75</text>
<text transform="translate(71.76,645.5) scale(0.93,1)" font-size="8.6" text-anchor="middle">51</text>
<text transform="translate(89.72,645.5) scale(0.93,1)" font-size="8.6" text-anchor="middle">25</text>
<text transform="translate(107.68,645.5) scale(0.93,1)" font-size="8.6" text-anchor="middle">15</text>
<text transform="translate(125.64,645.5) scale(0.93,1)" font-size="8.6" text-anchor="middle">8</text>
<text transform="translate(143.60,645.5) scale(0.93,1)" font-size="8.6" text-anchor="middle">1</text>
<text transform="translate(161.56,645.5) scale(0.93,1)" font-size="8.6" text-anchor="middle">1</text>
<text transform="translate(179.52,645.5) scale(0.93,1)" font-size="8.6" text-anchor="middle">1</text>
<text transform="translate(197.48,645.5) scale(0.93,1)" font-size="8.6" text-anchor="middle">1</text>
<text transform="translate(215.44,645.5) scale(0.93,1)" font-size="8.6" text-anchor="middle">1</text>
<text transform="translate(233.40,645.5) scale(0.93,1)" font-size="8.6" text-anchor="middle">1</text>
<text transform="translate(43.8,657.5) scale(0.93,1)" font-size="8.6" text-anchor="end">LR-CMML</text>
<text transform="translate(53.80,657.5) scale(0.93,1)" font-size="8.6" text-anchor="middle">194</text>
<text transform="translate(71.76,657.5) scale(0.93,1)" font-size="8.6" text-anchor="middle">134</text>
<text transform="translate(89.72,657.5) scale(0.93,1)" font-size="8.6" text-anchor="middle">97</text>
<text transform="translate(107.68,657.5) scale(0.93,1)" font-size="8.6" text-anchor="middle">68</text>
<text transform="translate(125.64,657.5) scale(0.93,1)" font-size="8.6" text-anchor="middle">54</text>
<text transform="translate(143.60,657.5) scale(0.93,1)" font-size="8.6" text-anchor="middle">43</text>
<text transform="translate(161.56,657.5) scale(0.93,1)" font-size="8.6" text-anchor="middle">34</text>
<text transform="translate(179.52,657.5) scale(0.93,1)" font-size="8.6" text-anchor="middle">25</text>
<text transform="translate(197.48,657.5) scale(0.93,1)" font-size="8.6" text-anchor="middle">19</text>
<text transform="translate(215.44,657.5) scale(0.93,1)" font-size="8.6" text-anchor="middle">11</text>
<text transform="translate(233.40,657.5) scale(0.93,1)" font-size="8.6" text-anchor="middle">9</text>
<text transform="translate(55,568.2) scale(0.93,1)" font-size="8.6">CCUS <tspan font-style="italic">vs.</tspan> LR-MDS: p = 0.448</text>
<text transform="translate(55,577.2) scale(0.93,1)" font-size="8.6">CCUS <tspan font-style="italic">vs.</tspan> LR-CMML: p = 0.039</text>
<text transform="translate(55,586.3) scale(0.93,1)" font-size="8.6" textLength="125.3" lengthAdjust="spacingAndGlyphs">LR-MDS <tspan font-style="italic">vs.</tspan> LR-CMML: p &lt; 0.001</text>
<path d="M54.00,481.20 L56.90,481.80 L61.50,482.30 L63.30,484.70 L65.60,485.80 L67.30,487.50 L67.90,489.30 L71.30,489.30 L73.70,492.70 L78.80,493.30 L80.00,495.00 L82.90,496.80 L84.00,499.10 L84.60,502.00 L88.10,502.50 L89.80,505.40 L94.40,505.80 L95.00,508.60 L126.30,508.60 L126.30,518.40 L143.70,518.40" fill="none" stroke="#69A9DF" stroke-width="0.95"/>
<path d="M54.00,481.20 L56.90,484.70 L58.70,487.00 L62.70,489.80 L65.60,491.60 L69.00,495.60 L72.50,498.50 L76.50,502.00 L80.00,503.70 L82.30,506.00 L84.60,509.50 L88.10,512.30 L92.10,516.40 L96.20,517.00 L99.60,518.10 L104.20,520.40 L108.50,525.00 L112.50,527.90 L115.40,527.30 L118.80,530.20 L122.90,531.70 L126.30,532.50 L129.80,535.40 L132.70,537.10 L138.50,537.10 L143.10,538.30 L145.40,541.20 L148.30,544.00 L150.60,545.60 L155.90,548.10 L160.00,548.40 L169.20,548.80 L173.80,551.90 L180.00,552.40 L183.80,556.20 L199.20,556.50 L203.80,561.60 L210.80,565.80 L215.40,567.30 L231.50,568.10 L233.10,569.60" fill="none" stroke="#41755F" stroke-width="1.0" stroke-dasharray="3.3,1.6"/>
<path d="M54.00,481.20 L60.40,481.20 L63.80,482.90 L66.70,484.30 L69.00,485.20 L70.80,487.00 L72.50,488.70 L77.70,489.30 L81.20,490.40 L83.50,492.70 L86.90,494.50 L88.10,496.20 L93.30,496.80 L97.30,498.20 L100.80,499.10 L105.00,499.60 L108.50,501.30 L111.30,503.70 L113.70,507.10 L138.50,507.10 L140.80,508.30 L144.20,510.00 L148.30,510.00 L149.40,514.00 L153.50,515.20 L155.80,517.50 L160.40,519.40 L166.20,521.90 L175.40,522.70 L176.90,525.80 L183.10,526.50 L185.40,528.10 L190.00,528.10 L191.50,531.20 L200.80,531.90 L203.10,534.20 L206.90,536.50 L210.00,541.20 L221.50,541.20 L223.10,545.30 L227.70,547.80 L233.10,550.40" fill="none" stroke="#E03C9E" stroke-width="1.1" stroke-dasharray="1.4,1.25"/>
<line x1="287.8" y1="466.2" x2="287.8" y2="592.1" stroke="#000" stroke-width="1.3"/>
<line x1="284.8" y1="592.10" x2="287.8" y2="592.10" stroke="#000" stroke-width="1"/>
<text x="281.6" y="594.40" font-size="8.6" text-anchor="end">0.0</text>
<line x1="284.8" y1="568.20" x2="287.8" y2="568.20" stroke="#000" stroke-width="1"/>
<text x="281.6" y="570.50" font-size="8.6" text-anchor="end">0.2</text>
<line x1="284.8" y1="544.30" x2="287.8" y2="544.30" stroke="#000" stroke-width="1"/>
<text x="281.6" y="546.60" font-size="8.6" text-anchor="end">0.4</text>
<line x1="284.8" y1="520.40" x2="287.8" y2="520.40" stroke="#000" stroke-width="1"/>
<text x="281.6" y="522.70" font-size="8.6" text-anchor="end">0.6</text>
<line x1="284.8" y1="496.50" x2="287.8" y2="496.50" stroke="#000" stroke-width="1"/>
<text x="281.6" y="498.80" font-size="8.6" text-anchor="end">0.8</text>
<line x1="284.8" y1="472.60" x2="287.8" y2="472.60" stroke="#000" stroke-width="1"/>
<text x="281.6" y="474.90" font-size="8.6" text-anchor="end">1.0</text>
<line x1="287.2" y1="592.1" x2="495.5" y2="592.1" stroke="#000" stroke-width="1.2"/>
<text transform="translate(264.2,528.8) rotate(-90)" font-size="10" text-anchor="middle" textLength="68.3" lengthAdjust="spacingAndGlyphs" style="stroke-width:0.35px">Proportion of patients</text>
<text x="292.7" y="456.7" font-size="9.88">Median follow-up after diagnosis of neoplasm</text>
<rect x="302.0" y="472.60" width="41.20" height="50.79" fill="#A50026"/>
<rect x="302.0" y="523.39" width="41.20" height="5.38" fill="#5E3F1C"/>
<rect x="302.0" y="528.76" width="41.20" height="3.59" fill="#68A642"/>
<rect x="302.0" y="532.35" width="41.20" height="59.75" fill="#2F4C7C"/>
<text x="322.60" y="469.3" font-size="7.6" text-anchor="middle">4.5 years</text>
<text x="322.60" y="603.5" font-size="8.5" text-anchor="middle">LR-MDS</text>
<rect x="371.2" y="472.60" width="41.30" height="15.53" fill="#A50026"/>
<rect x="371.2" y="488.13" width="41.30" height="2.99" fill="#5E3F1C"/>
<rect x="371.2" y="491.12" width="41.30" height="1.79" fill="#68A642"/>
<rect x="371.2" y="492.92" width="41.30" height="99.19" fill="#2F4C7C"/>
<text x="391.85" y="469.3" font-size="7.6" text-anchor="middle">1.4 years</text>
<text x="391.85" y="603.5" font-size="8.5" text-anchor="middle">CCUS</text>
<rect x="440.6" y="472.60" width="41.00" height="51.38" fill="#A50026"/>
<rect x="440.6" y="523.99" width="41.00" height="17.33" fill="#5E3F1C"/>
<rect x="440.6" y="541.31" width="41.00" height="4.18" fill="#68A642"/>
<rect x="440.6" y="545.50" width="41.00" height="46.61" fill="#2F4C7C"/>
<text x="461.10" y="469.3" font-size="7.6" text-anchor="middle">2.0 years</text>
<text x="461.10" y="603.5" font-size="8.5" text-anchor="middle">LR-CMML</text>
<rect x="271.25" y="616.5" width="20.5" height="5.5" fill="#2F4C7C"/>
<text x="295.75" y="621.8" font-size="7.65">Survived without event</text>
<rect x="271.25" y="625" width="20.5" height="5.5" fill="#5E3F1C"/>
<text x="295.75" y="630.3" font-size="7.65">Died after transformation</text>
<rect x="390.75" y="616.5" width="20.5" height="5.5" fill="#68A642"/>
<text x="415.25" y="621.8" font-size="7.65">Survived after transformation</text>
<rect x="390.75" y="625" width="20.5" height="5.5" fill="#A50026"/>
<text x="415.25" y="630.3" font-size="7.65">Died without transformation</text>
</svg></body></html>
